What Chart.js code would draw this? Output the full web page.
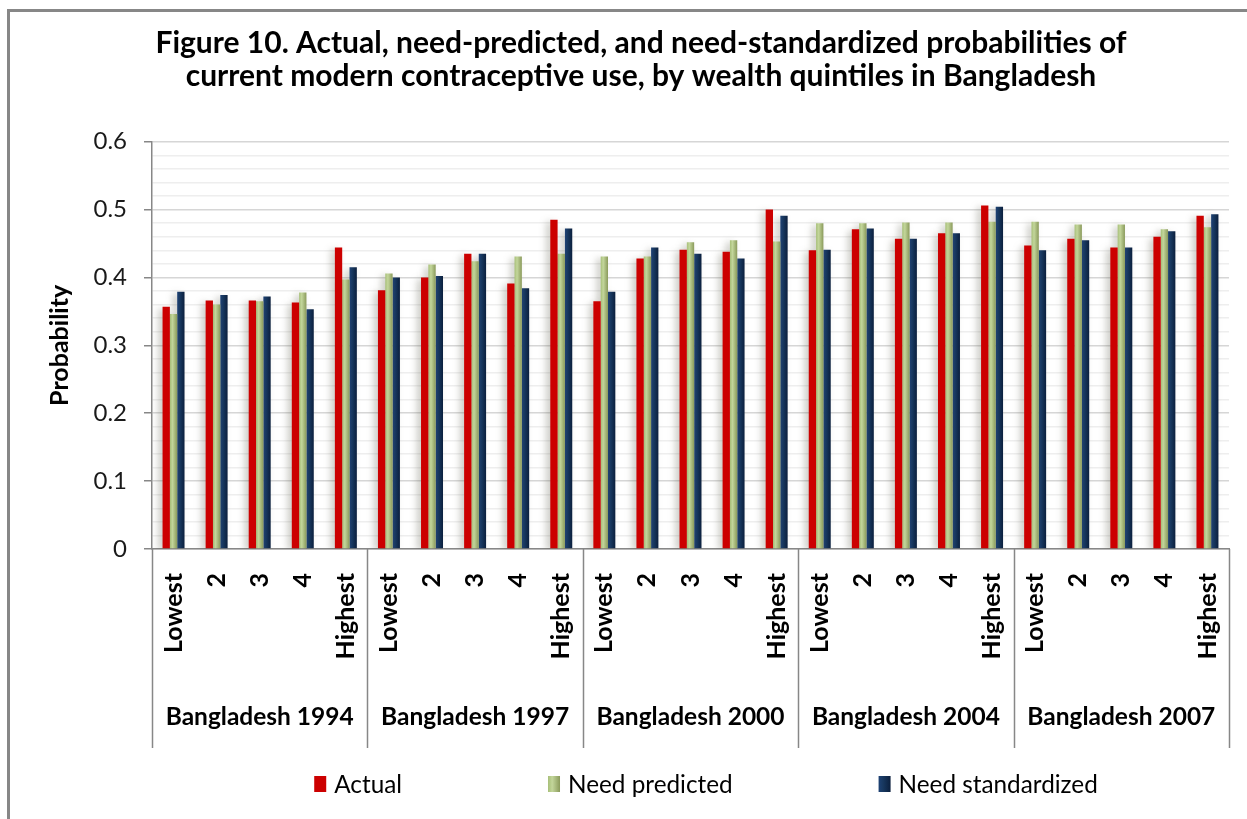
<!DOCTYPE html>
<html>
<head>
<meta charset="utf-8">
<script src="https://cdn.jsdelivr.net/npm/chart.js@4.4.1/dist/chart.umd.min.js"></script>
<style>
  html, body { margin: 0; padding: 0; background: #fff; overflow: hidden; }
  #wrap { position: relative; width: 1247px; height: 819px; }
  #frame { position: absolute; left: 7px; top: 9px; width: 1400px; height: 1000px;
           border: 3px solid #878787; box-sizing: border-box; }
  canvas { position: absolute; left: 0; top: 0; }
</style>
</head>
<body>
<div id="wrap">
  <div id="frame"></div>
  <canvas id="chart" width="1247" height="819"></canvas>
</div>
<script>
// Wealth quintiles within each survey round
const quintiles = ['Lowest', '2', '3', '4', 'Highest'];
const surveys = ['Bangladesh 1994', 'Bangladesh 1997', 'Bangladesh 2000', 'Bangladesh 2004', 'Bangladesh 2007'];

// Probabilities, five quintiles per survey in survey order
const actual = [
  0.357, 0.366, 0.366, 0.363, 0.444,
  0.381, 0.400, 0.435, 0.391, 0.485,
  0.365, 0.428, 0.441, 0.438, 0.500,
  0.440, 0.471, 0.457, 0.465, 0.506,
  0.447, 0.457, 0.444, 0.460, 0.491
];
const needPredicted = [
  0.346, 0.360, 0.365, 0.378, 0.397,
  0.406, 0.419, 0.424, 0.431, 0.435,
  0.431, 0.431, 0.452, 0.455, 0.453,
  0.480, 0.480, 0.481, 0.481, 0.482,
  0.482, 0.478, 0.478, 0.471, 0.474
];
const needStandardized = [
  0.379, 0.374, 0.372, 0.353, 0.415,
  0.400, 0.402, 0.435, 0.384, 0.472,
  0.379, 0.444, 0.435, 0.428, 0.491,
  0.441, 0.472, 0.457, 0.465, 0.504,
  0.440, 0.455, 0.444, 0.468, 0.493
];
const yTicks = [0, 0.1, 0.2, 0.3, 0.4, 0.5, 0.6];

const FONT = "Lato, 'Open Sans', 'DejaVu Sans', sans-serif";
const AXIS_GREY = '#878787';
const GROUP_SHARE = 0.51;   // share of each category slot taken by its three bars

// Horizontal colour ramps used across each bar
const fills = {
  actual: [[0, '#cc0000'], [1, '#cc0000']],
  predicted: [[0, '#a7bf78'], [0.35, '#c3d69b'], [1, '#8a9a5b']],
  standardized: [[0, '#1f4275'], [0.4, '#17375e'], [1, '#0b1f3d']]
};

const labels = surveys.flatMap(() => quintiles);

function rampAcross(ctx, x0, x1, stops) {
  const g = ctx.createLinearGradient(x0, 0, x1, 0);
  stops.forEach(([o, c]) => g.addColorStop(o, c));
  return g;
}

function barFill(stops) {
  return (c) => {
    const chart = c.chart;
    const xs = chart.scales && chart.scales.x;
    if (c.type !== 'data' || !xs || !chart.chartArea) return stops[0][1];
    const n = chart.data.labels.length;
    const slot = (xs.right - xs.left) / n * GROUP_SHARE / 3;
    const centre = xs.getPixelForValue(c.dataIndex) + (c.datasetIndex - 1) * slot;
    return rampAcross(chart.ctx, centre - slot / 2, centre + slot / 2, stops);
  };
}

const isMajor = (v) => Math.abs(v * 10 - Math.round(v * 10)) < 1e-6;

// Soft glow to the left of every bar
const barShadow = {
  id: 'barShadow',
  beforeDatasetsDraw(chart) {
    const ctx = chart.ctx;
    ctx.save();
    ctx.shadowColor = 'rgba(70, 70, 50, 0.28)';
    ctx.shadowBlur = 7;
    ctx.shadowOffsetX = -4;
    ctx.shadowOffsetY = 2;
  },
  afterDatasetsDraw(chart) { chart.ctx.restore(); }
};

// Survey separators and survey names below the quintile labels
const surveyGroups = {
  id: 'surveyGroups',
  afterDraw(chart) {
    const { ctx, scales: { x } } = chart;
    const per = quintiles.length;
    const slot = (x.right - x.left) / labels.length;
    const bottom = 748;
    ctx.save();
    ctx.strokeStyle = AXIS_GREY;
    ctx.lineWidth = 1.5;
    for (let g = 0; g <= surveys.length; g++) {
      const px = Math.round(x.left + g * per * slot) + 0.5;
      ctx.beginPath();
      ctx.moveTo(px, x.top);
      ctx.lineTo(px, bottom);
      ctx.stroke();
    }
    ctx.fillStyle = '#000';
    ctx.font = `bold 24.5px ${FONT}`;
    ctx.textAlign = 'center';
    ctx.textBaseline = 'middle';
    surveys.forEach((name, g) => {
      const cx = (x.getPixelForValue(g * per) + x.getPixelForValue(g * per + per - 1)) / 2;
      ctx.fillText(name, cx, 717);
    });
    ctx.restore();
  }
};

// Legend row along the bottom
const legendRow = {
  id: 'legendRow',
  afterDraw(chart) {
    const ctx = chart.ctx;
    const box = 12, boxH = 16, gapText = 8, gapItem = 146, cy = 784, centre = 706;
    ctx.save();
    ctx.font = `24.3px ${FONT}`;
    const items = chart.data.datasets.map(ds => ({
      text: ds.label, stops: ds.ramp, w: box + gapText + ctx.measureText(ds.label).width
    }));
    const total = items.reduce((s, it) => s + it.w, 0) + gapItem * (items.length - 1);
    let x = centre - total / 2;
    ctx.textAlign = 'left';
    ctx.textBaseline = 'middle';
    items.forEach(it => {
      ctx.fillStyle = rampAcross(ctx, x, x + box, it.stops);
      ctx.fillRect(x, cy - boxH / 2, box, boxH);
      ctx.fillStyle = '#000';
      ctx.fillText(it.text, x + box + gapText, cy + 1);
      x += it.w + gapItem;
    });
    ctx.restore();
  }
};

const series = [
  { label: 'Actual', data: actual, ramp: fills.actual },
  { label: 'Need predicted', data: needPredicted, ramp: fills.predicted },
  { label: 'Need standardized', data: needStandardized, ramp: fills.standardized }
];

new Chart(document.getElementById('chart'), {
  type: 'bar',
  data: {
    labels,
    datasets: series.map(s => ({
      label: s.label,
      data: s.data,
      ramp: s.ramp,
      backgroundColor: barFill(s.ramp),
      borderWidth: 0,
      categoryPercentage: GROUP_SHARE,
      barPercentage: 1
    }))
  },
  options: {
    responsive: false,
    animation: false,
    events: [],
    layout: { padding: { left: 53, right: 18, top: 0, bottom: 70 } },
    plugins: {
      legend: { display: false },
      tooltip: { enabled: false },
      title: {
        display: true,
        text: [
          'Figure 10. Actual, need-predicted, and need-standardized probabilities of',
          'current modern contraceptive use, by wealth quintiles in Bangladesh'
        ],
        color: '#000',
        font: { family: FONT, size: 30, weight: 'bold', lineHeight: 33 / 30 },
        padding: { top: 26.5, bottom: 49.2 }
      }
    },
    scales: {
      x: {
        grid: { display: false, drawTicks: false },
        border: { display: true, color: AXIS_GREY, width: 1.5 },
        ticks: {
          autoSkip: false, maxRotation: 90, minRotation: 90, padding: 24,
          color: '#000', font: { family: FONT, size: 25, weight: 'bold' }
        },
        afterFit(s) {
          s.height = 200;
          s.paddingLeft = 0;
          s.paddingRight = 0;
        }
      },
      y: {
        min: yTicks[0],
        max: yTicks[yTicks.length - 1],
        border: { display: true, color: AXIS_GREY, width: 1.5 },
        grid: {
          color: (c) => isMajor(c.tick.value) ? '#d6d6d6' : '#eeeeee',
          lineWidth: 1.5,
          drawTicks: true,
          tickLength: 8,
          tickColor: (c) => isMajor(c.tick.value) ? AXIS_GREY : 'rgba(0,0,0,0)',
          tickWidth: 1.5
        },
        ticks: {
          stepSize: 0.02,
          autoSkip: false,
          padding: 17,
          color: '#1a1a1a',
          font: { family: FONT, size: 24 },
          callback: (v) => isMajor(v) ? String(Math.round(v * 10) / 10) : ''
        },
        title: {
          display: true,
          text: 'Probability',
          color: '#000',
          font: { family: FONT, size: 25, weight: 'bold', lineHeight: 0.56 },
          padding: 0
        },
        afterFit(s) { s.width = 99; }
      }
    }
  },
  plugins: [barShadow, surveyGroups, legendRow]
});
</script>
</body>
</html>
